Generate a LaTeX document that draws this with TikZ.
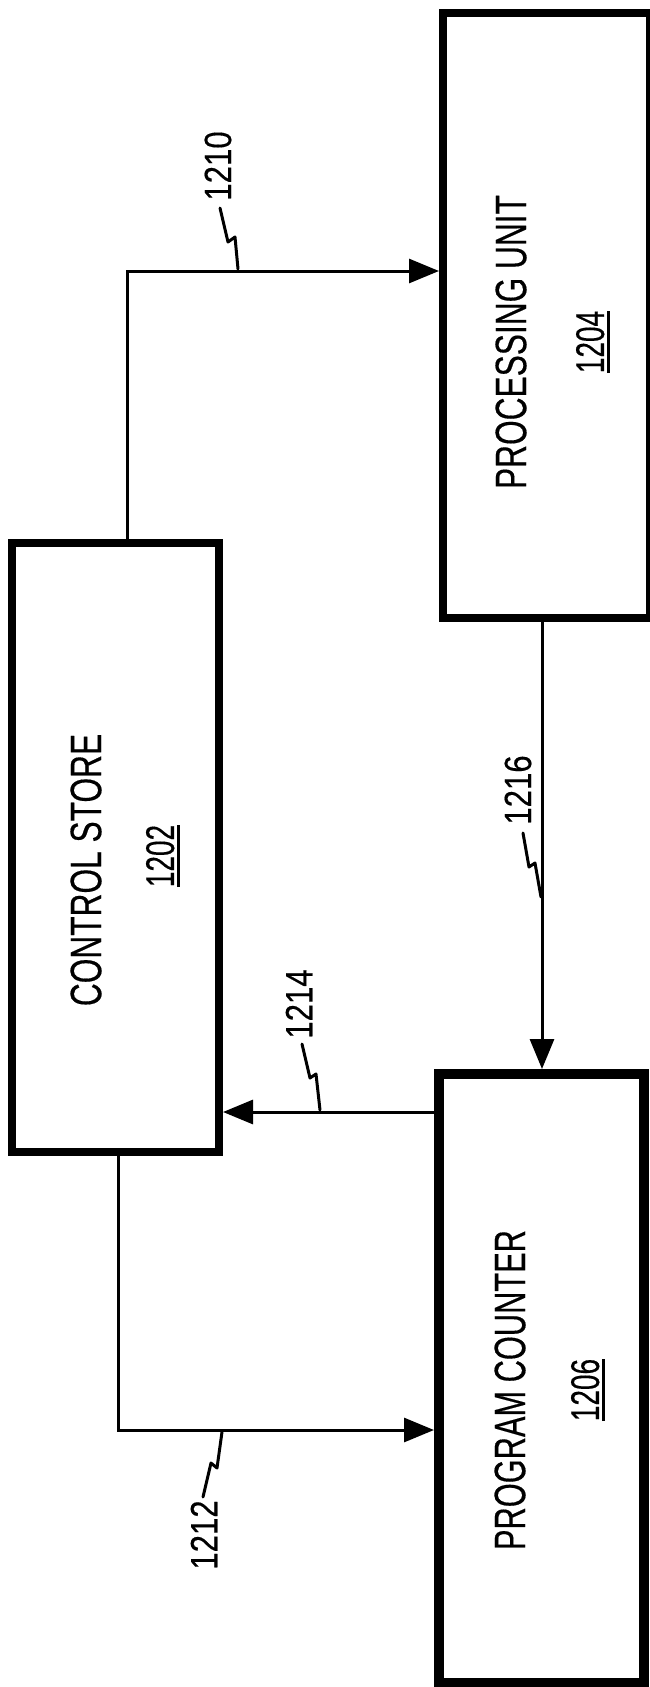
\documentclass[tikz,border=0pt]{standalone}
\usepackage{fontspec}
\setmainfont{Liberation Sans}[FakeBold=0.4]
\usetikzlibrary{arrows.meta}
\newcommand{\cnd}[2]{\scalebox{#1}[1]{#2}}
\newcommand{\ulnum}[1]{\setbox0\hbox{#1}\rlap{\rule[-6pt]{\wd0}{2.6pt}}\box0}
\begin{document}
\begin{tikzpicture}[x=1pt,y=-1pt,
  blk/.style={draw, line width=8pt, inner sep=0pt, outer sep=4pt},
  conn/.style={line width=3pt},
  arr/.style={conn, -{Triangle[length=30pt,width=24pt]}},
  ttl/.style={rotate=90, inner sep=0pt, font=\fontsize{44}{50}\selectfont},
  num/.style={rotate=90, inner sep=0pt, font=\fontsize{40}{46}\selectfont},
  lbl/.style={rotate=90, inner sep=0pt, font=\fontsize{38}{44}\selectfont},
  sq/.style={line width=3pt, line join=round, line cap=round}]
\useasboundingbox (0,0) rectangle (649,1687);
% boxes
\node[blk, minimum width=207pt, minimum height=609pt] (cs) at (115.5,847.5) {};
\node[blk, minimum width=207pt, minimum height=605pt] (pu) at (546.5,315.5) {};
\node[blk, line width=10pt, outer sep=5pt, minimum width=205pt, minimum height=609pt] (pc) at (541.5,1378.5) {};
% texts
\node[ttl] (cst) at (86,870) {\cnd{0.72}{CONTROL STORE}};
\node[num] (csn) at (163,856) {\cnd{0.7}{\ulnum{1202}}};
\node[ttl] (put) at (511,342) {\cnd{0.72}{PROCESSING UNIT}};
\node[num] (pun) at (593,342) {\cnd{0.7}{\ulnum{1204}}};
\node[ttl] (pct) at (510,1390) {\cnd{0.7}{PROGRAM COUNTER}};
\node[num] (pcn) at (588,1390) {\cnd{0.7}{\ulnum{1206}}};
% connectors
\coordinate (k1) at (127,271);
\coordinate (k2) at (118,1430);
\coordinate (k3) at (0,1112);
\coordinate (k4) at (542,0);
\draw[arr] (cs.north -| k1) |- (pu.west |- k1);
\draw[arr] (cs.south -| k2) |- (pc.west |- k2);
\draw[arr] (pc.west |- k3) -- (cs.east |- k3);
\draw[arr] (pu.south -| k4) -- (pc.north -| k4);
% reference labels
\node[lbl] (l1210) at (218,166) {\cnd{0.82}{1210}};
\node[lbl] (l1212) at (204,1535) {\cnd{0.82}{1212}};
\node[lbl] (l1214) at (299,1004) {\cnd{0.82}{1214}};
\node[lbl] (l1216) at (518,790) {\cnd{0.82}{1216}};
% squiggle leaders
\draw[sq] (220,208) -- (228,242) -- (235,237) -- (238,269);
\draw[sq] (203,1497) -- (211,1463) -- (217,1468) -- (222,1432);
\draw[sq] (302,1044) -- (310,1078) -- (316,1074) -- (320,1110);
\draw[sq] (523,833) -- (529,867) -- (535,863) -- (541,897);
\end{tikzpicture}
\end{document}
